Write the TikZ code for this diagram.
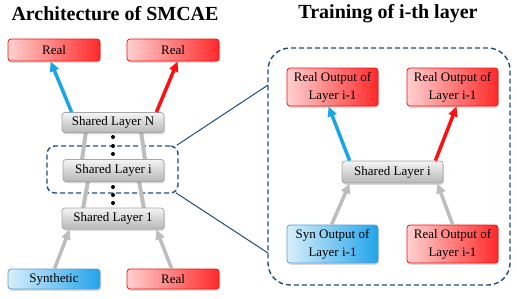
\documentclass[tikz,border=0pt]{standalone}
\usepackage{fontspec}
\setmainfont{Liberation Serif}
\usetikzlibrary{shadows,arrows.meta,calc}
\definecolor{dblue}{HTML}{1F4E79}
\definecolor{arrblue}{HTML}{1AA6E6}
\definecolor{arrred}{HTML}{FF1010}
\definecolor{arrgray}{HTML}{BDBDBD}
\definecolor{redlight}{HTML}{FFD0D0}
\definecolor{reddark}{HTML}{FF2A2A}
\definecolor{redborder}{HTML}{F01010}
\definecolor{bluelight}{HTML}{D8EEFB}
\definecolor{bluedark}{HTML}{22A4EA}
\definecolor{blueborder}{HTML}{5A9BD5}
\definecolor{graytop}{HTML}{F4F4F4}
\definecolor{graybot}{HTML}{B8B8B8}
\tikzset{
  boxbase/.style={rounded corners=3pt, line width=0.8pt, inner sep=0pt, align=center,
    font=\fontsize{13}{18}\selectfont,
    drop shadow={opacity=0.3, shadow xshift=1pt, shadow yshift=-1.8pt}},
  redbox/.style={boxbase, draw=redborder, left color=redlight, right color=reddark},
  bluebox/.style={boxbase, draw=blueborder, left color=bluelight, right color=bluedark},
  graybox/.style={boxbase, draw=gray!70, top color=graytop, bottom color=graybot},
  titletext/.style={font=\fontsize{20}{24}\selectfont\bfseries},
  barrow/.style={line width=3.5pt, arrblue, -{Triangle[length=10pt,width=9pt]}},
  rarrow/.style={line width=3.5pt, arrred, -{Triangle[length=10pt,width=9pt]}},
  garrow/.style={line width=3.5pt, arrgray, -{Triangle[length=10pt,width=9pt]}},
  gband/.style={line width=4pt, arrgray},
  dashbox/.style={draw=dblue, line width=1.4pt, dash pattern=on 5pt off 3pt},
  linkline/.style={draw=dblue, line width=1pt},
  dotmark/.style={circle, fill=black, inner sep=0pt, minimum size=4pt}
}
\begin{document}
\begin{tikzpicture}[x=1pt,y=-1pt]
\useasboundingbox (0,0) rectangle (517,298);
% titles
\node[titletext] (t1) at (115,14) {Architecture of SMCAE};
\node[titletext] (t2) at (388,14) {Training of i-th layer};

% left panel: background bands
\node[dashbox, rounded corners=8pt, minimum width=131pt, minimum height=47pt] (dbox) at (112.5,169.5) {};
\coordinate (b1a) at (86,131); \coordinate (b1b) at (82,160);
\coordinate (b2a) at (141,131); \coordinate (b2b) at (145,160);
\coordinate (b3a) at (88,181); \coordinate (b3b) at (83,209);
\coordinate (b4a) at (139,181); \coordinate (b4b) at (144,209);
\draw[gband] (b1a) -- (b1b);
\draw[gband] (b2a) -- (b2b);
\draw[gband] (b3a) -- (b3b);
\draw[gband] (b4a) -- (b4b);

% left nodes
\node[redbox, minimum width=92pt, minimum height=22pt] (realL) at (54,50) {Real};
\node[redbox, minimum width=92pt, minimum height=22pt] (realR) at (173,50) {Real};
\node[graybox, minimum width=102pt, minimum height=20pt] (layN) at (113,122.5) {Shared Layer N};
\node[graybox, minimum width=101pt, minimum height=22pt] (layI) at (113.5,170.5) {Shared Layer i};
\node[graybox, minimum width=102pt, minimum height=21pt] (lay1) at (113,218.5) {Shared Layer 1};
\node[bluebox, minimum width=92pt, minimum height=20pt] (syn) at (54,279) {Synthetic};
\node[redbox, minimum width=92pt, minimum height=20pt] (realB) at (173,279) {Real};

% dots
\node[dotmark] (d1) at (113,137) {};
\node[dotmark] (d2) at (113,146) {};
\node[dotmark] (d3) at (113,154) {};
\node[dotmark] (d4) at (113,187) {};
\node[dotmark] (d5) at (113,195) {};
\node[dotmark] (d6) at (113,203) {};

% left arrows
\draw[barrow] ([xshift=10pt]layN.north west) -- ([xshift=43pt]realL.south west);
\draw[rarrow] ([xshift=-8pt]layN.north east) -- ([xshift=51pt]realR.south west);
\draw[garrow] ([xshift=47pt]syn.north west) -- ([xshift=8pt]lay1.south west);
\draw[garrow] ([xshift=45pt]realB.north west) -- ([xshift=-8pt]lay1.south east);

% right panel
\node[dashbox, rounded corners=22pt, minimum width=242pt, minimum height=237pt] (bigbox) at (389,166.5) {};
\coordinate (c1) at (268,85);
\coordinate (c2) at (268,253);
\draw[linkline] ([xshift=-2pt]dbox.north east) -- (c1);
\draw[linkline] ([xshift=-3pt,yshift=1pt]dbox.south east) -- (c2);

\node[redbox, minimum width=91pt, minimum height=38pt] (rO1) at (332.5,87) {Real Output of\\Layer i-1};
\node[redbox, minimum width=91pt, minimum height=38pt] (rO2) at (452.5,87) {Real Output of\\Layer i-1};
\node[graybox, minimum width=101pt, minimum height=22pt] (layIR) at (392.5,172) {Shared Layer i};
\node[bluebox, minimum width=91pt, minimum height=38pt] (synO) at (332.5,244) {Syn Output of\\Layer i-1};
\node[redbox, minimum width=91pt, minimum height=38pt] (rO3) at (452.5,244) {Real Output of\\Layer i-1};

\draw[barrow] ([xshift=8pt]layIR.north west) -- ([xshift=42pt]rO1.south west);
\draw[rarrow] ([xshift=-8pt]layIR.north east) -- ([xshift=50pt]rO2.south west);
\draw[garrow] ([xshift=45pt]synO.north west) -- ([xshift=8pt]layIR.south west);
\draw[garrow] ([xshift=46pt]rO3.north west) -- ([xshift=-6pt]layIR.south east);
\end{tikzpicture}
\end{document}
